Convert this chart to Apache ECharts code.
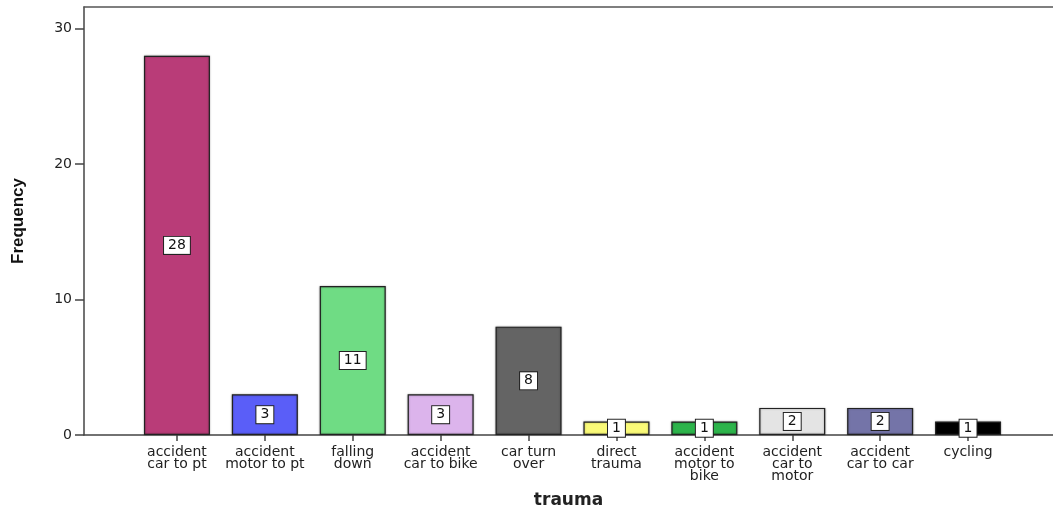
<!DOCTYPE html>
<html>
<head>
<meta charset="utf-8">
<script src="https://cdn.jsdelivr.net/npm/echarts@6/dist/echarts.min.js"></script>
<style>
  html, body { margin: 0; padding: 0; background: #fff; }
  #chart { width: 1053px; height: 510px; }
</style>
</head>
<body>
<div id="chart"></div>
<script>
// trauma categories (label lines split by \n)
const categories = [
  "accident\ncar to pt",
  "accident\nmotor to pt",
  "falling\ndown",
  "accident\ncar to bike",
  "car turn\nover",
  "direct\ntrauma",
  "accident\nmotor to\nbike",
  "accident\ncar to\nmotor",
  "accident\ncar to car",
  "cycling"
];
const frequency = [28, 3, 11, 3, 8, 1, 1, 2, 2, 1];
const barColors = [
  "#b93c78", "#5a5ef8", "#6fdc84", "#dcb4ec", "#646464",
  "#fafa78", "#2db44b", "#e4e4e4", "#7474a8", "#000000"
];
const yTicks = [0, 10, 20, 30];

const yMax = 31.6;
const font = "'DejaVu Sans', Verdana, sans-serif";

const chart = echarts.init(document.getElementById("chart"));

const option = {
  animation: false,
  grid: [
    // frame + value axis
    { left: 84, right: 0, top: 7, bottom: 75, outerBoundsMode: "none", containLabel: false },
    // bars
    { left: 133, right: 41, top: 7, bottom: 75, outerBoundsMode: "none", containLabel: false }
  ],
  xAxis: [
    {
      gridIndex: 0, type: "value", min: 0, max: 1, position: "bottom",
      axisLine: { show: true, lineStyle: { color: "#444", width: 1.5 } },
      axisTick: { show: false }, axisLabel: { show: false }, splitLine: { show: false },
      name: "trauma", nameLocation: "middle", nameGap: 57,
      nameTextStyle: { fontFamily: font, fontWeight: "bold", fontSize: 17, color: "#222" }
    },
    {
      gridIndex: 0, type: "value", min: 0, max: 1, position: "top",
      axisLine: { show: true, lineStyle: { color: "#555", width: 1.5 } },
      axisTick: { show: false }, axisLabel: { show: false }, splitLine: { show: false }
    },
    {
      gridIndex: 1, type: "category", data: categories,
      axisLine: { show: false },
      axisTick: { show: true, alignWithLabel: true, length: 6, lineStyle: { color: "#444", width: 1.5 } },
      axisLabel: {
        interval: 0, margin: 11, fontFamily: font, fontSize: 14,
        color: "#222", lineHeight: 12
      }
    }
  ],
  yAxis: [
    {
      gridIndex: 0, type: "value", min: 0, max: yMax, interval: 10,
      axisLine: { show: true, lineStyle: { color: "#444", width: 1.5 } },
      axisTick: { show: true, length: 9, lineStyle: { color: "#444", width: 1.5 } },
      axisLabel: {
        margin: 12, fontFamily: font, fontSize: 14, color: "#222",
        showMaxLabel: false,
        formatter: v => (yTicks.includes(v) ? String(v) : "")
      },
      splitLine: { show: false },
      name: "Frequency", nameLocation: "middle", nameGap: 57, nameRotate: 90,
      nameTextStyle: { fontFamily: "'Liberation Sans', Arial, sans-serif", fontWeight: "bold", fontSize: 17, color: "#111" }
    },
    {
      gridIndex: 1, type: "value", min: 0, max: yMax, show: false
    }
  ],
  series: [
    {
      type: "bar",
      xAxisIndex: 2,
      yAxisIndex: 1,
      barWidth: 66,
      data: frequency.map((v, i) => ({
        value: v,
        itemStyle: { color: barColors[i] }
      })),
      itemStyle: {
        borderColor: "#222", borderWidth: 1.2,
        shadowColor: "rgba(0,0,0,0.35)", shadowBlur: 2
      },
      label: {
        show: true, position: "inside",
        fontFamily: font, fontSize: 14, color: "#111",
        backgroundColor: "#fff", borderColor: "#222", borderWidth: 1,
        padding: [2, 4, 1, 4]
      }
    }
  ]
};

chart.setOption(option);
</script>
</body>
</html>
